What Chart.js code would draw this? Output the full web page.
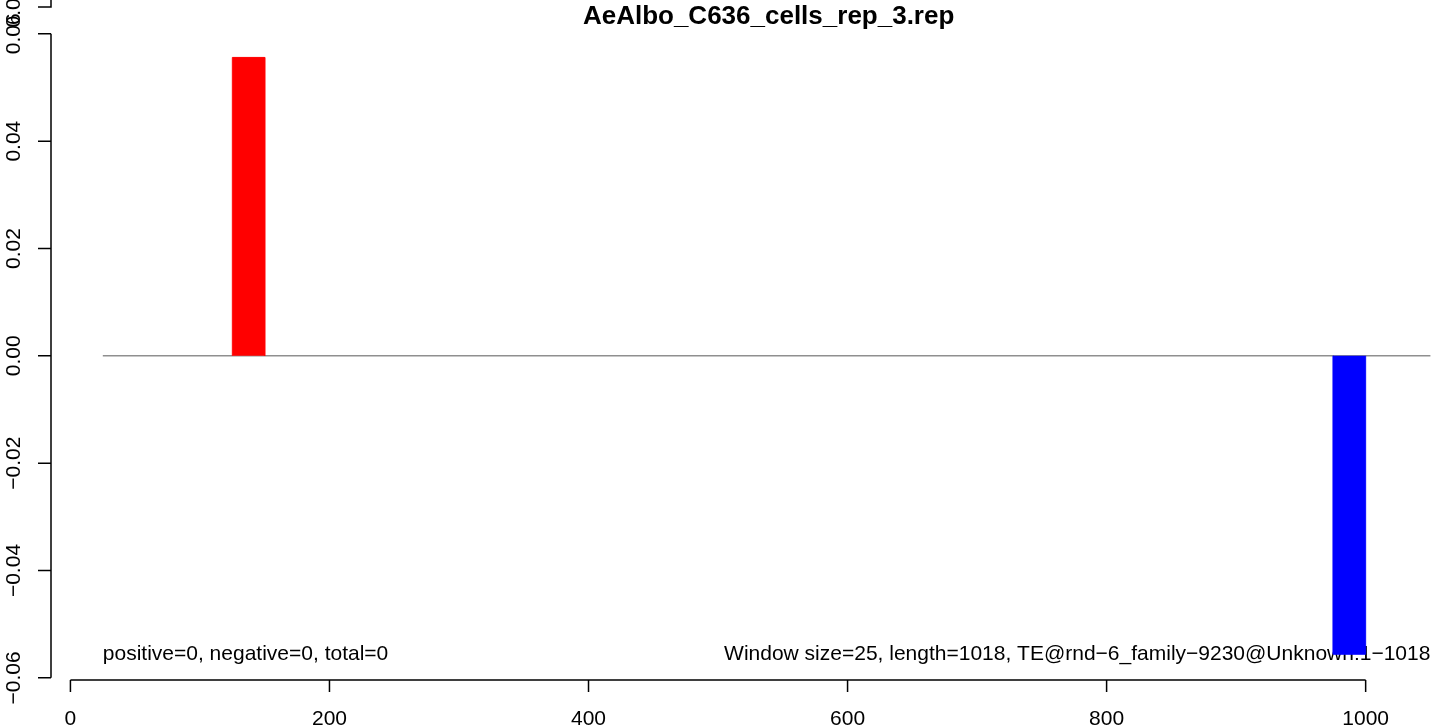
<!DOCTYPE html>
<html>
<head>
<meta charset="utf-8">
<script src="https://cdn.jsdelivr.net/npm/chart.js@4"></script>
<style>
html, body { margin: 0; padding: 0; background: #fff; }
#wrap { width: 1433px; height: 725px; position: relative; }
</style>
</head>
<body>
<div id="wrap"><canvas id="chart"></canvas></div>
<script>
const title = 'AeAlbo_C636_cells_rep_3.rep';
const windowSize = 25;
const windowStarts = [125, 975];
const windowValues = [0.0556, -0.0556];
const xTicks = [0, 200, 400, 600, 800, 1000];
const yTicks = [-0.06, -0.04, -0.02, 0, 0.02, 0.04, 0.06];
const xLimits = [25, 1050];
const yLimits = [-0.0556, 0.0556];
// second y axis fragment left at the top of the original plot
const strayTick = 0.065;
const strayLabel = '0.06';
const leftNote = 'positive=0, negative=0, total=0';
const rightNote = 'Window size=25, length=1018, TE@rnd\u22126_family\u22129230@Unknown:1\u22121018';

const FONT = "'Liberation Sans', Arial, Helvetica, sans-serif";

function fmtY(v) {
    let s = Math.abs(v).toFixed(2);
    return v < 0 ? '\u2212' + s : s;
}

// each window becomes a filled rectangle from 0 to its value
function windowPoints(sign) {
    let pts = [];
    for (let i = 0; i < windowStarts.length; i++) {
        let v = windowValues[i];
        if (sign * v <= 0) continue;
        let s = windowStarts[i];
        pts.push({x: s, y: 0}, {x: s, y: v}, {x: s + windowSize, y: v}, {x: s + windowSize, y: 0});
    }
    return pts;
}

const axesPlugin = {
    id: 'rAxes',
    beforeDatasetsDraw(chart) {
        // notes sit under the bars, like in the R output
        const ctx = chart.ctx;
        const xs = chart.scales.x, ys = chart.scales.y;
        ctx.save();
        ctx.fillStyle = '#000';
        ctx.font = '21px ' + FONT;
        ctx.textBaseline = 'middle';
        let ny = ys.getPixelForValue(yLimits[0]);
        ctx.textAlign = 'left';
        ctx.fillText(leftNote, xs.getPixelForValue(xLimits[0]), ny);
        ctx.textAlign = 'right';
        ctx.fillText(rightNote, xs.getPixelForValue(xLimits[1]), ny);
        ctx.restore();
    },
    afterDraw(chart) {
        const ctx = chart.ctx;
        const xs = chart.scales.x, ys = chart.scales.y;
        const area = chart.chartArea;
        ctx.save();
        ctx.strokeStyle = '#000';
        ctx.fillStyle = '#000';
        ctx.lineWidth = 1.5;

        // y axis
        const ax = area.left;
        ctx.beginPath();
        ctx.moveTo(ax, ys.getPixelForValue(yTicks[0]));
        ctx.lineTo(ax, ys.getPixelForValue(yTicks[yTicks.length - 1]));
        yTicks.forEach(v => {
            let py = ys.getPixelForValue(v);
            ctx.moveTo(ax, py);
            ctx.lineTo(ax - 13, py);
        });
        let sy = ys.getPixelForValue(strayTick);
        ctx.moveTo(ax, area.top);
        ctx.lineTo(ax, sy);
        ctx.lineTo(ax - 13, sy);
        ctx.stroke();

        ctx.font = '21px ' + FONT;
        ctx.textAlign = 'center';
        ctx.textBaseline = 'middle';
        const drawY = (txt, py) => {
            ctx.save();
            ctx.translate(14, py);
            ctx.rotate(-Math.PI / 2);
            ctx.fillText(txt, 0, 0);
            ctx.restore();
        };
        yTicks.forEach(v => drawY(fmtY(v), ys.getPixelForValue(v)));
        drawY(strayLabel, sy);

        // x axis
        const ay = area.bottom;
        ctx.beginPath();
        ctx.moveTo(xs.getPixelForValue(xTicks[0]), ay);
        ctx.lineTo(xs.getPixelForValue(xTicks[xTicks.length - 1]), ay);
        xTicks.forEach(v => {
            let px = xs.getPixelForValue(v);
            ctx.moveTo(px, ay);
            ctx.lineTo(px, ay + 12);
        });
        ctx.stroke();
        ctx.textBaseline = 'alphabetic';
        xTicks.forEach(v => ctx.fillText(String(v), xs.getPixelForValue(v), chart.height));

        // title
        ctx.font = 'bold 26px ' + FONT;
        ctx.fillText(title, xs.getPixelForValue((xLimits[0] + xLimits[1]) / 2) + 2, 24);
        ctx.restore();
    }
};

new Chart(document.getElementById('chart'), {
    type: 'line',
    data: {
        datasets: [
            {
                data: windowPoints(1),
                backgroundColor: '#ff0000',
                borderColor: '#ff0000',
                borderWidth: 1,
                fill: 'origin',
                pointRadius: 0
            },
            {
                data: windowPoints(-1),
                backgroundColor: '#0000ff',
                borderColor: '#0000ff',
                borderWidth: 1,
                fill: 'origin',
                pointRadius: 0
            },
            {
                data: xLimits.map(x => ({x: x, y: 0})),
                borderColor: '#8f8f8f',
                borderWidth: 1.5,
                fill: false,
                pointRadius: 0
            }
        ]
    },
    options: {
        responsive: true,
        maintainAspectRatio: false,
        animation: false,
        devicePixelRatio: 1,
        layout: { padding: { left: 51, right: 0, top: 0, bottom: 45 } },
        plugins: { legend: { display: false }, tooltip: { enabled: false } },
        elements: { line: { tension: 0 } },
        scales: {
            x: { type: 'linear', min: -15, max: 1052, display: false },
            y: { type: 'linear', min: -0.0604, max: 0.0663, display: false }
        }
    },
    plugins: [axesPlugin]
});
</script>
</body>
</html>
